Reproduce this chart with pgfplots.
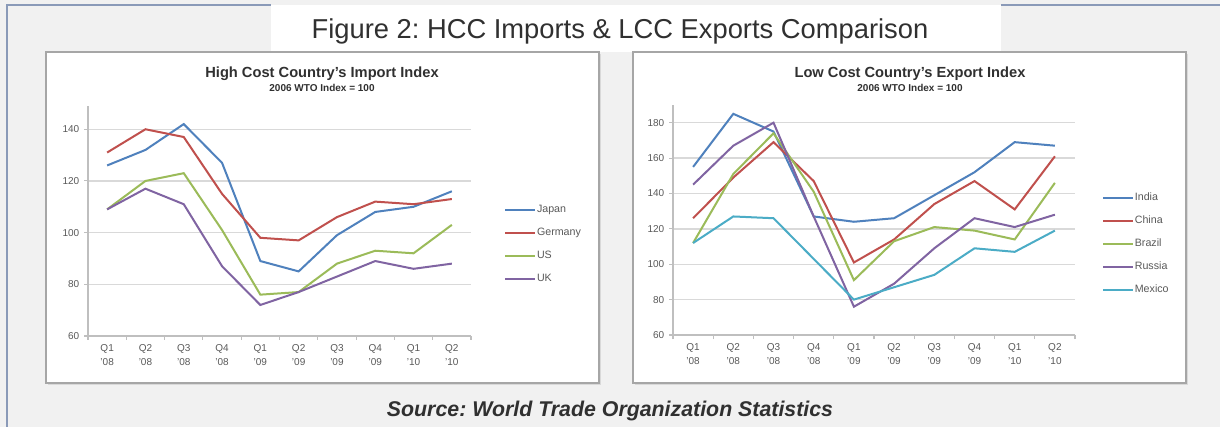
\documentclass[border=0pt]{standalone}
\usepackage{fontspec}
\setmainfont{Liberation Sans}
\usepackage{pgfplots}
\pgfplotsset{compat=1.18}
\frenchspacing
\definecolor{bgc}{HTML}{F1F1F1}
\definecolor{bordc}{HTML}{8A9AB8}
\definecolor{boxc}{HTML}{A6A6A6}
\definecolor{gridc}{HTML}{D9D9D9}
\definecolor{axc}{HTML}{BFBFBF}
\definecolor{tickc}{HTML}{595959}
\definecolor{txtc}{HTML}{303030}
\definecolor{cBlue}{HTML}{4F81BD}
\definecolor{cRed}{HTML}{C0504D}
\definecolor{cGreen}{HTML}{9BBB59}
\definecolor{cPurple}{HTML}{8064A2}
\definecolor{cAqua}{HTML}{4BACC6}
\pgfplotsset{
  excel/.style={
    scale only axis,
    height=172.5pt,
    xmin=-0.5, xmax=9.5, ymin=60,
    axis x line*=bottom, axis y line*=left,
    axis line style={draw=axc, line width=0.8pt},
    xtick={0,...,9},
    xticklabels={{Q1\\'08},{Q2\\'08},{Q3\\'08},{Q4\\'08},{Q1\\'09},{Q2\\'09},{Q3\\'09},{Q4\\'09},{Q1\\'10},{Q2\\'10}},
    x tick label style={align=center, font=\fontsize{7.5}{10.5}\selectfont, text=tickc},
    y tick label style={font=\fontsize{7.5}{9}\selectfont, text=tickc},
    major x tick style={draw=none},
    minor xtick={-0.5,0.5,...,9.5},
    minor x tick style={draw=axc, line width=0.8pt},
    minor tick length=3pt,
    major tick length=3pt,
    y tick style={draw=axc, line width=0.8pt},
    tick align=outside,
    ymajorgrids,
    grid style={draw=gridc, line width=1pt},
    /pgf/number format/assume math mode=true,
    clip=false,
    legend cell align=left,
    legend image code/.code={\draw[#1] (0pt,0pt) -- (22pt,0pt);},
    legend style={draw=none, fill=none, anchor=north west,
      font=\fontsize{8}{9}\selectfont, text=tickc,
      nodes={inner sep=1pt, minimum height=17.25pt},
      row sep=0pt},
  },
  every axis plot/.append style={line width=1.5pt, mark=none},
}
\begin{document}
\begin{tikzpicture}[x=0.75pt,y=-0.75pt]
\useasboundingbox (0,0) rectangle (1220,427);
\fill[bgc] (0,0) rectangle (1220,427);
\fill[white] (271,5) rectangle (1001,52);
\draw[bordc, line width=1.5pt] (7,427) -- (7,5) -- (271,5);
\draw[bordc, line width=1.5pt] (1001,5) -- (1220,5);
\fill[black!15] (48,54) rectangle (601,385);
\fill[black!15] (635,54) rectangle (1188,385);
\draw[boxc, line width=1.2pt, fill=white] (46,52) rectangle (599,383);
\draw[boxc, line width=1.2pt, fill=white] (633,52) rectangle (1186,383);
\node[font=\fontsize{20.5}{24}\selectfont, text=txtc] at (620,31) {Figure 2: HCC Imports \& LCC Exports Comparison};
\node[font=\bfseries\itshape\fontsize{16}{19}\selectfont, text=txtc] at (610,411) {Source: World Trade Organization Statistics};
\node[font=\bfseries\fontsize{11}{13}\selectfont, text=txtc] at (322,74) {High Cost Country's Import Index};
\node[font=\bfseries\fontsize{7.5}{9}\selectfont, text=txtc] at (322,88) {2006 WTO Index = 100};
\node[font=\bfseries\fontsize{11}{13}\selectfont, text=txtc] at (910,74) {Low Cost Country's Export Index};
\node[font=\bfseries\fontsize{7.5}{9}\selectfont, text=txtc] at (910,88) {2006 WTO Index = 100};

\begin{axis}[excel, at={(66pt,-252pt)}, anchor=south west,
  width=287.25pt, ymax=149, ytick={60,80,...,140},
  legend style={at={(1.076,0.611)}}]
\addplot[cBlue] coordinates {(0,126) (1,132) (2,142) (3,127) (4,89) (5,85) (6,99) (7,108) (8,110) (9,116)};
\addplot[cRed] coordinates {(0,131) (1,140) (2,137) (3,115) (4,98) (5,97) (6,106) (7,112) (8,111) (9,113)};
\addplot[cGreen] coordinates {(0,109) (1,120) (2,123) (3,101) (4,76) (5,77) (6,88) (7,93) (8,92) (9,103)};
\addplot[cPurple] coordinates {(0,109) (1,117) (2,111) (3,87) (4,72) (5,77) (6,83) (7,89) (8,86) (9,88)};
\legend{Japan,Germany,US,UK}
\end{axis}

\begin{axis}[excel, at={(504.75pt,-251.25pt)}, anchor=south west,
  width=301.5pt, ymax=190, ytick={60,80,...,180},
  legend style={at={(1.057,0.659)}}]
\addplot[cBlue] coordinates {(0,155) (1,185) (2,175) (3,127) (4,124) (5,126) (6,139) (7,152) (8,169) (9,167)};
\addplot[cRed] coordinates {(0,126) (1,149) (2,169) (3,147) (4,101) (5,114) (6,134) (7,147) (8,131) (9,161)};
\addplot[cGreen] coordinates {(0,112) (1,151) (2,174) (3,141) (4,91) (5,113) (6,121) (7,119) (8,114) (9,146)};
\addplot[cPurple] coordinates {(0,145) (1,167) (2,180) (3,127) (4,76) (5,89) (6,109) (7,126) (8,121) (9,128)};
\addplot[cAqua] coordinates {(0,112) (1,127) (2,126) (3,103) (4,80) (5,87) (6,94) (7,109) (8,107) (9,119)};
\legend{India,China,Brazil,Russia,Mexico}
\end{axis}
\end{tikzpicture}
\end{document}
